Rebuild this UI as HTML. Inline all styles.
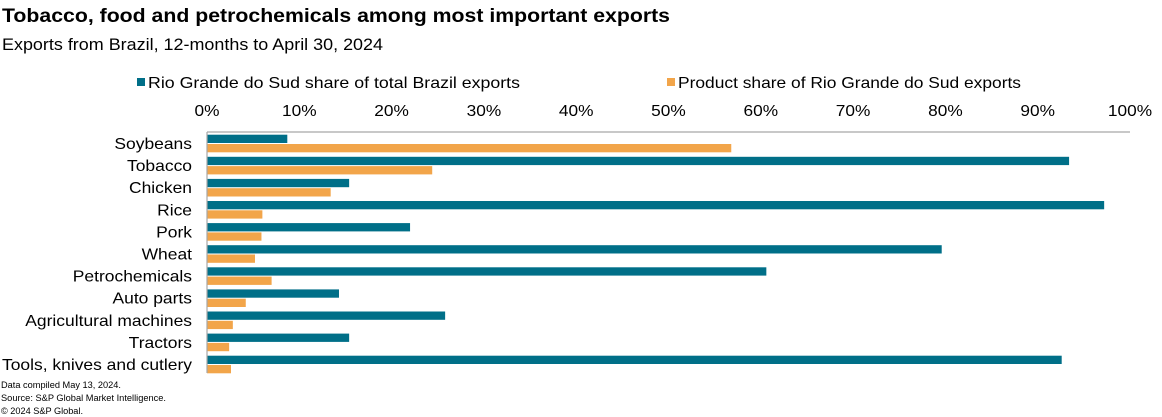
<!DOCTYPE html>
<html><head><meta charset="utf-8"><style>
body{margin:0;background:#fff;width:1162px;height:417px;overflow:hidden;font-family:"Liberation Sans",Arial,sans-serif}
svg{display:block}
</style></head><body>
<svg id="chart" width="1162" height="417" xmlns="http://www.w3.org/2000/svg" font-family="Liberation Sans, Arial, sans-serif">
<text x="2" y="22" font-size="19.5" font-weight="bold" fill="#000" textLength="668" lengthAdjust="spacingAndGlyphs">Tobacco, food and petrochemicals among most important exports</text>
<text x="2" y="50" font-size="16.5" fill="#000" textLength="381" lengthAdjust="spacingAndGlyphs">Exports from Brazil, 12-months to April 30, 2024</text>
<g>
<rect x="137" y="78" width="8" height="8" fill="#006F88"/>
<text x="148" y="88" font-size="16" textLength="372" lengthAdjust="spacingAndGlyphs">Rio Grande do Sud share of total Brazil exports</text>
<rect x="667" y="78" width="8" height="8" fill="#F2A54A"/>
<text x="678" y="88" font-size="16" textLength="343" lengthAdjust="spacingAndGlyphs">Product share of Rio Grande do Sud exports</text>
</g>
<g id="ticks"></g>
<g id="bars"></g>
<g id="cats"></g>
<line x1="207" y1="132" x2="1130" y2="132" stroke="#A6A6A6" stroke-width="1.2"/>
<line x1="207" y1="132" x2="207" y2="373" stroke="#A6A6A6" stroke-width="1.2"/>
<g font-size="9" fill="#000">
<text x="1" y="388" textLength="120" lengthAdjust="spacingAndGlyphs">Data compiled May 13, 2024.</text>
<text x="1" y="401" textLength="165" lengthAdjust="spacingAndGlyphs">Source: S&amp;P Global Market Intelligence.</text>
<text x="1" y="414" textLength="82" lengthAdjust="spacingAndGlyphs">© 2024 S&amp;P Global.</text>
</g>
</svg>
<script>
const categories = ["Soybeans","Tobacco","Chicken","Rice","Pork","Wheat","Petrochemicals","Auto parts","Agricultural machines","Tractors","Tools, knives and cutlery"];
const rgsShare = [8.7,93.4,15.4,97.2,22.0,79.6,60.6,14.3,25.8,15.4,92.6];
const productShare = [56.8,24.4,13.4,6.0,5.9,5.2,7.0,4.2,2.8,2.4,2.6];
const tickValues = [0,10,20,30,40,50,60,70,80,90,100];
const NS="http://www.w3.org/2000/svg";
const x0=207,x1=1130,top0=134.7,rowH=22.1,barH=8.3;
const xs=v=>x0+(x1-x0)*v/100;
const rowY=i=>top0+i*rowH;
function mk(tag,attrs,parent){const e=document.createElementNS(NS,tag);for(const k in attrs)e.setAttribute(k,attrs[k]);parent.appendChild(e);return e;}
function widen(t,f){const w=t.getComputedTextLength();t.setAttribute('textLength',(w*f).toFixed(1));t.setAttribute('lengthAdjust','spacingAndGlyphs');}
const tg=document.getElementById('ticks'),bg=document.getElementById('bars'),cg=document.getElementById('cats');
tickValues.forEach(v=>{const t=mk('text',{x:xs(v),y:116,'font-size':16,'text-anchor':'middle'},tg);t.textContent=v+'%';


widen(t,1.08);});
categories.forEach((c,i)=>{
 const y=rowY(i);
 const a=mk('rect',{x:x0,y:y,width:xs(rgsShare[i])-x0,height:barH,fill:'#006F88'},bg);
 
 
 const b=mk('rect',{x:x0,y:y+barH+1,width:xs(productShare[i])-x0,height:barH,fill:'#F2A54A'},bg);
 
 
 const t=mk('text',{x:192,y:y+barH+6,'font-size':16,'text-anchor':'end'},cg);t.textContent=c;
 
 
 widen(t,1.09);
});
</script>
</body></html>
